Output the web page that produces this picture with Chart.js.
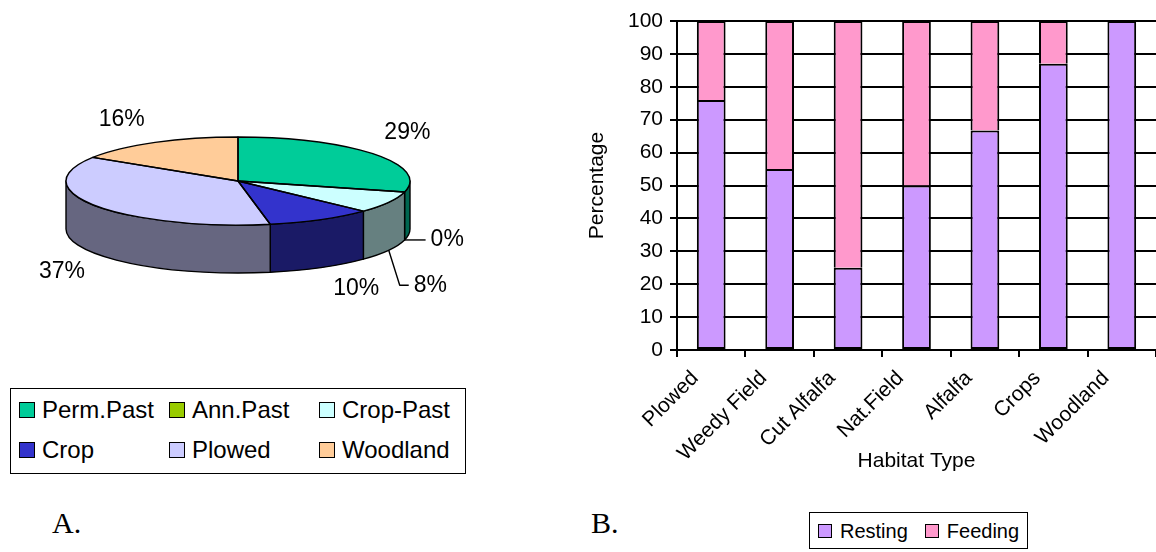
<!DOCTYPE html>
<html>
<head>
<meta charset="utf-8">
<script src="https://cdn.jsdelivr.net/npm/chart.js@4/dist/chart.umd.min.js"></script>
<style>
  html, body { margin: 0; padding: 0; background: #fff; }
  body { width: 1156px; height: 552px; position: relative; overflow: hidden;
         font-family: 'Liberation Sans', Arial, sans-serif; color: #000; }
  canvas { position: absolute; }
  #pie { left: 0; top: 0; }
  #bars { left: 560px; top: 0; }
  .legend { position: absolute; border: 1.5px solid #000; box-sizing: border-box; background: #fff; }
  #pieLegend { left: 10px; top: 388px; width: 456px; height: 86px; font-size: 24px;
               display: grid; grid-template-columns: 150px 150px 150px; grid-auto-rows: 40px;
               padding: 1px 0 0 8px; }
  #barLegend { left: 809px; top: 512px; width: 219px; height: 37px; font-size: 20px;
               display: flex; align-items: center; gap: 17px; padding: 1px 0 0 8px; }
  .item { display: flex; align-items: center; white-space: nowrap; }
  .sw { box-sizing: border-box; border: 1.5px solid #000; flex: none; }
  #pieLegend .sw { width: 16px; height: 16px; margin-right: 7px; }
  #barLegend .sw { width: 14px; height: 14px; margin-right: 8px; }
  .panel { position: absolute; font-family: 'Liberation Serif', 'Times New Roman', serif;
           font-size: 30px; line-height: 30px; }
</style>
</head>
<body>
<canvas id="pie" width="480" height="380"></canvas>
<canvas id="bars" width="596" height="478"></canvas>
<div id="pieLegend" class="legend"></div>
<div id="barLegend" class="legend"></div>
<div class="panel" style="left:52px; top:508px;">A.</div>
<div class="panel" style="left:591px; top:508px;">B.</div>

<script>
// ---- Land use (pie) ----
const landUse = ['Perm.Past', 'Ann.Past', 'Crop-Past', 'Crop', 'Plowed', 'Woodland'];
const landShare = [29, 0, 8, 10, 37, 16];

// ---- Activity by habitat (stacked bars) ----
const habitats = ['Plowed', 'Weedy Field', 'Cut Alfalfa', 'Nat.Field', 'Alfalfa', 'Crops', 'Woodland'];
const resting = [76, 55, 25, 50, 66.7, 87, 100];
const feeding = [24, 45, 75, 50, 33.3, 13, 0];

// ---- styles ----
const topColors  = ['#00CC99', '#99CC00', '#CCFFFF', '#3333CC', '#CCCCFF', '#FFCC99'];
const sideColors = ['#006650', '#4D6600', '#668080', '#1A1A66', '#666680', '#806650'];
const restColor = '#CC99FF';
const feedColor = '#FF99CC';
const FONT = "'Liberation Sans', Arial, sans-serif";

Chart.defaults.font.family = FONT;
Chart.defaults.color = '#000';

// Tilted 3-D look for the pie: side walls, squashed top, outlines and labels.
const pie3d = {
  id: 'pie3d',
  beforeDatasetsDraw(chart, args, opts) {
    const ctx = chart.ctx;
    const arcs = chart.getDatasetMeta(0).data;
    const { x: cx, y: cy, outerRadius: r } = arcs[0];
    const ry = r * opts.tilt, d = opts.depth;
    ctx.save();
    ctx.lineWidth = opts.lineWidth;
    ctx.strokeStyle = '#000';
    ctx.lineJoin = 'round';
    arcs.forEach((arc, i) => {
      const a1 = Math.max(arc.startAngle, 0);
      const a2 = Math.min(arc.endAngle, Math.PI);
      if (a2 <= a1) return;
      ctx.beginPath();
      ctx.ellipse(cx, cy, r, ry, 0, a1, a2);
      ctx.lineTo(cx + r * Math.cos(a2), cy + ry * Math.sin(a2) + d);
      ctx.ellipse(cx, cy + d, r, ry, 0, a2, a1, true);
      ctx.closePath();
      ctx.fillStyle = opts.sideColors[i];
      ctx.fill();
      ctx.stroke();
    });
    ctx.restore();
    ctx.save();
    ctx.translate(cx, cy);
    ctx.scale(1, opts.tilt);
    ctx.translate(-cx, -cy);
  },
  afterDatasetsDraw(chart, args, opts) {
    const ctx = chart.ctx;
    ctx.restore();
    const arcs = chart.getDatasetMeta(0).data;
    const { x: cx, y: cy, outerRadius: r } = arcs[0];
    const ry = r * opts.tilt, d = opts.depth;
    const values = chart.data.datasets[0].data;
    ctx.save();
    ctx.lineWidth = opts.lineWidth;
    ctx.strokeStyle = '#000';
    ctx.lineJoin = 'round';
    arcs.forEach(arc => {
      if (arc.endAngle - arc.startAngle <= 0) return;
      ctx.beginPath();
      ctx.moveTo(cx, cy);
      ctx.ellipse(cx, cy, r, ry, 0, arc.startAngle, arc.endAngle);
      ctx.closePath();
      ctx.stroke();
    });
    // percentage labels
    ctx.font = opts.labelFont;
    ctx.fillStyle = '#000';
    ctx.textBaseline = 'middle';
    arcs.forEach((arc, i) => {
      const mid = (arc.startAngle + arc.endAngle) / 2;
      const text = values[i] + '%';
      const leader = opts.leaders[i];
      if (leader) {
        let px = cx + r * Math.cos(mid);
        let py = cy + ry * Math.sin(mid) + (Math.sin(mid) > 0 ? d : 0);
        ctx.beginPath();
        ctx.moveTo(px, py);
        const sx = px, sy = py;
        leader.forEach(([dx, dy]) => { px = sx + dx; py = sy + dy; ctx.lineTo(px, py); });
        ctx.stroke();
        ctx.textAlign = 'left';
        ctx.fillText(text, px + 5, py);
      } else {
        const m = opts.labelGap;
        const [nx, ny] = opts.nudge[i] || [0, 0];
        const lx = cx + (r + m) * Math.cos(mid) + nx;
        const ly = cy + (ry + m) * Math.sin(mid) + (Math.sin(mid) > 0 ? d : 0) + ny;
        ctx.textAlign = 'center';
        ctx.fillText(text, lx, ly);
      }
    });
    ctx.restore();
  }
};

new Chart(document.getElementById('pie'), {
  type: 'pie',
  data: {
    labels: landUse,
    datasets: [{
      data: landShare,
      backgroundColor: topColors,
      borderWidth: 0,
      clip: false
    }]
  },
  options: {
    responsive: false,
    animation: false,
    events: [],
    layout: { padding: { left: 66, right: 70, top: 9, bottom: 27 } },
    plugins: {
      legend: { display: false },
      tooltip: { enabled: false },
      pie3d: {
        tilt: 0.256,
        depth: 48,
        lineWidth: 1.4,
        sideColors: sideColors,
        labelFont: '23px ' + FONT,
        labelGap: 36,
        nudge: { 0: [5, 1], 3: [18, -10], 4: [-4, -2], 5: [-16, 9] },
        leaders: { 1: [[21, 0]], 2: [[11, 35], [20, 35]] }
      }
    }
  },
  plugins: [pie3d]
});

new Chart(document.getElementById('bars'), {
  type: 'bar',
  data: {
    labels: habitats,
    datasets: [
      { label: 'Resting', data: resting, backgroundColor: restColor, borderSkipped: false },
      { label: 'Feeding', data: feeding, backgroundColor: feedColor, borderSkipped: 'start' }
    ]
  },
  options: {
    responsive: false,
    animation: false,
    events: [],
    datasets: {
      bar: { borderColor: '#000', borderWidth: 2, barPercentage: 0.42, categoryPercentage: 1 }
    },
    layout: { padding: { left: 21, right: 0, top: 21, bottom: 0 } },
    plugins: { legend: { display: false }, tooltip: { enabled: false } },
    scales: {
      x: {
        stacked: true,
        afterFit(scale) { scale.height = 128; },
        grid: { offset: true, drawOnChartArea: false, drawTicks: true, tickLength: 7, color: '#000', lineWidth: 2 },
        border: { color: '#000', width: 2 },
        ticks: { minRotation: 45, maxRotation: 45, autoSkip: false, font: { size: 21 }, padding: 9, labelOffset: -16 },
        title: { display: true, text: 'Habitat Type', font: { size: 21 }, padding: { top: 0, bottom: 4 } }
      },
      y: {
        stacked: true,
        min: 0, max: 100,
        afterFit(scale) { scale.width = 96; },
        grid: { color: '#000', lineWidth: 2, tickLength: 7 },
        border: { color: '#000', width: 2 },
        ticks: { stepSize: 10, font: { size: 21 }, padding: 7 },
        title: { display: true, text: 'Percentage', font: { size: 21 }, padding: { top: 4, bottom: 4 } }
      }
    }
  }
});

// Legends built from the same names and colours
function swatchItem(name, color) {
  const it = document.createElement('div');
  it.className = 'item';
  const sw = document.createElement('span');
  sw.className = 'sw';
  sw.style.background = color;
  it.appendChild(sw);
  it.appendChild(document.createTextNode(name));
  return it;
}
const pl = document.getElementById('pieLegend');
landUse.forEach((n, i) => pl.appendChild(swatchItem(n, topColors[i])));
const bl = document.getElementById('barLegend');
bl.appendChild(swatchItem('Resting', restColor));
bl.appendChild(swatchItem('Feeding', feedColor));
</script>
</body>
</html>
